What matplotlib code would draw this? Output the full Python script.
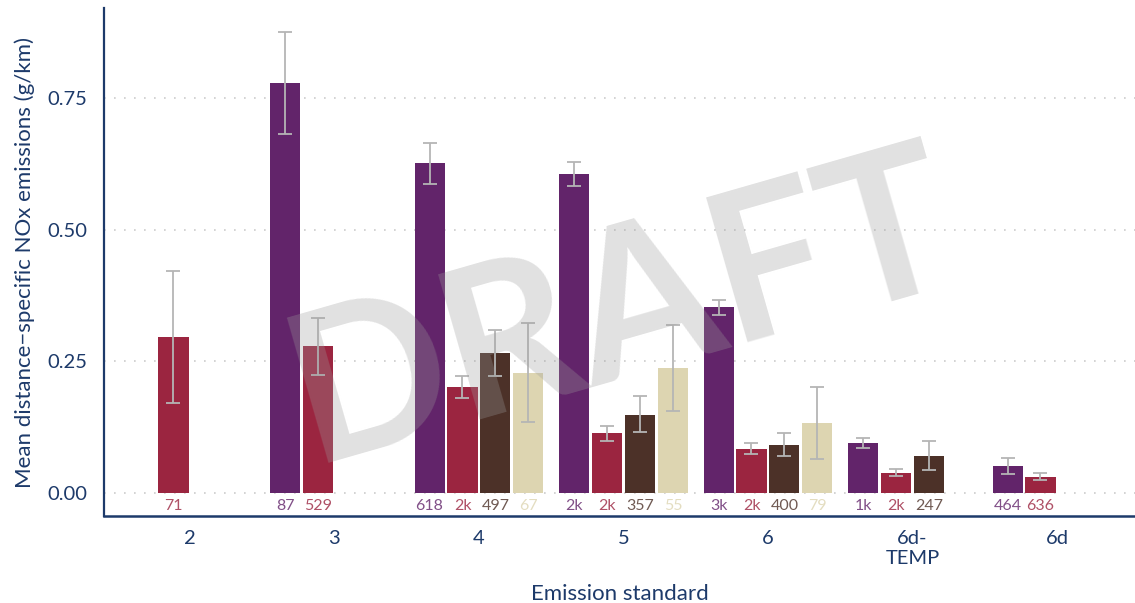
import numpy as np
import matplotlib.pyplot as plt

# data
standards = ["2", "3", "4", "5", "6", "6d-\nTEMP", "6d"]
series_colors = ["#62246a", "#9b2540", "#4c3128", "#ddd5b1"]

# mean NOx (g/km) per series slot, nan = no bar
means = [
    [np.nan, 0.778, 0.627, 0.606, 0.353, 0.095, 0.051],
    [0.296, 0.279, 0.201, 0.114, 0.084, 0.038, 0.030],
    [np.nan, np.nan, 0.266, 0.148, 0.091, 0.070, np.nan],
    [np.nan, np.nan, 0.228, 0.237, 0.133, np.nan, np.nan],
]
err_low = [
    [np.nan, 0.682, 0.587, 0.583, 0.338, 0.086, 0.036],
    [0.171, 0.224, 0.180, 0.099, 0.074, 0.032, 0.025],
    [np.nan, np.nan, 0.223, 0.115, 0.071, 0.044, np.nan],
    [np.nan, np.nan, 0.134, 0.156, 0.065, np.nan, np.nan],
]
err_high = [
    [np.nan, 0.875, 0.665, 0.629, 0.367, 0.105, 0.067],
    [0.421, 0.332, 0.223, 0.128, 0.095, 0.045, 0.037],
    [np.nan, np.nan, 0.309, 0.184, 0.114, 0.099, np.nan],
    [np.nan, np.nan, 0.323, 0.319, 0.202, np.nan, np.nan],
]
counts = [
    [None, "87", "618", "2k", "3k", "1k", "464"],
    ["71", "529", "2k", "2k", "2k", "2k", "636"],
    [None, None, "497", "357", "400", "247", None],
    [None, None, "67", "55", "79", None, None],
]

navy = "#1d3a6a"
plt.rcParams["font.family"] = ["Lato", "DejaVu Sans"]

fig = plt.figure(figsize=(11.35, 6.03), dpi=100)
ax = fig.add_axes([0.0916, 0.1443, 0.9084, 0.8424])

x = np.arange(len(standards))
pitch = 0.228
width = 0.208
for s in range(4):
    m = np.array(means[s])
    lo = np.array(err_low[s])
    hi = np.array(err_high[s])
    xs = x + (s - 1.5) * pitch
    ok = ~np.isnan(m)
    ax.bar(xs[ok], m[ok], width=width, color=series_colors[s], zorder=2)
    ax.errorbar(xs[ok], m[ok], yerr=[m[ok] - lo[ok], hi[ok] - m[ok]], fmt="none",
                ecolor="#b5b5b5", elinewidth=1.3, capsize=5, capthick=1.3, zorder=4)
    for i in range(len(standards)):
        if counts[s][i] is not None:
            ax.text(xs[i], -0.024, counts[s][i], ha="center", va="center",
                    fontsize=11.5, color=series_colors[s], alpha=0.8, zorder=3)

ax.set_xlim(-0.595, 6.54)
ax.set_ylim(-0.0437, 0.921)
ax.set_yticks([0, 0.25, 0.5, 0.75])
ax.set_yticklabels(["0.00", "0.25", "0.50", "0.75"])
ax.set_xticks(x)
ax.set_xticklabels(standards, linespacing=1.25)
ax.tick_params(axis="both", length=0, labelsize=14.5, labelcolor=navy)
ax.tick_params(axis="x", pad=10)
ax.tick_params(axis="y", pad=12)
ax.grid(axis="y", color="#cccccc", linestyle=(0, (1, 5)), linewidth=1.2, zorder=0)
ax.set_axisbelow(True)

for side in ["top", "right"]:
    ax.spines[side].set_visible(False)
ax.spines["left"].set_color(navy)
ax.spines["bottom"].set_color(navy)
ax.spines["left"].set_linewidth(1.6)
ax.spines["bottom"].set_linewidth(1.8)

ax.set_ylabel("Mean distance\u2212specific NOx emissions (g/km)", fontsize=16, color=navy, labelpad=9)
ax.set_xlabel("Emission standard", fontsize=16, color=navy, labelpad=12)

# watermark
fig.text(0.548, 0.484, "DRAFT", fontsize=150, fontweight="bold", color="#9c9c9c",
         alpha=0.3, rotation=16, ha="center", va="center", zorder=10)

fig.savefig("out.png", dpi=100)
